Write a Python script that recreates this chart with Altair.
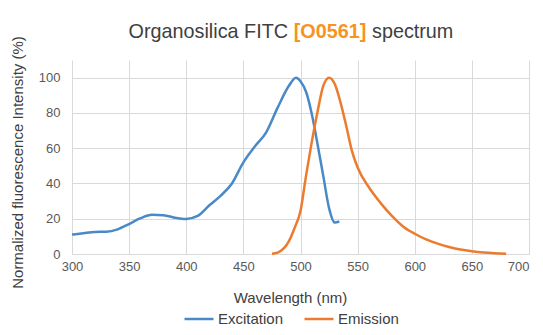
import altair as alt
import pandas as pd

# ---- data ----
exc_wl = [300, 310, 320, 330, 340, 350, 360, 370, 380, 390, 400, 410, 420, 430, 440,
          450, 460, 470, 480, 490, 496, 500, 505, 510, 515, 520, 525, 530, 534]
exc_val = [11, 11.8, 12.5, 12.6, 14, 17, 20.3, 22.2, 22, 20.6, 19.9, 21.6, 27.5, 33,
           40, 52, 61, 69, 83, 95.5, 100, 98, 91.7, 79, 62, 44, 26, 17.8, 18.4]

em_wl = [475, 480, 490, 495, 500, 505, 510, 515, 520, 525, 530, 535, 540, 545, 550,
         560, 570, 580, 590, 600, 610, 620, 630, 640, 650, 660, 670, 680]
em_val = [0.2, 0.8, 7.4, 15, 24.4, 45, 64, 81, 95.5, 100, 96.4, 86, 72.7, 58.5, 49,
          37.7, 29, 21.6, 15.5, 11.5, 8.3, 5.9, 4, 2.5, 1.5, 0.8, 0.4, 0.2]

series_names = ["Excitation", "Emission"]
series_colors = ["#4a89c8", "#ec7b30"]

title_parts = ["Organosilica FITC", "[O0561]", "spectrum"]

x_ticks = [300, 350, 400, 450, 500, 550, 600, 650, 700]
y_ticks = [0, 20, 40, 60, 80, 100]

df = pd.concat([
    pd.DataFrame({"series": series_names[0], "wl": exc_wl, "val": exc_val}),
    pd.DataFrame({"series": series_names[1], "wl": em_wl, "val": em_val}),
])

FONT = "Arial, Liberation Sans, sans-serif"

lines = alt.Chart(df).mark_line(strokeWidth=2.5, interpolate="monotone").encode(
    x=alt.X("wl:Q",
            scale=alt.Scale(domain=[300, 700], nice=False, zero=False),
            axis=alt.Axis(values=x_ticks, title="Wavelength (nm)", titleX=218,
                          titlePadding=17, grid=True, gridColor="#d9d9d9",
                          domainColor="#d9d9d9", ticks=False, labelPadding=6,
                          labelFlush=False,
                          labelAlign=alt.expr("datum.value == 700 ? 'right' : 'center'"),
                          labelFontSize=13, labelColor="#595959",
                          titleFontSize=15, titleFontWeight="normal",
                          titleColor="#404040", labelFont=FONT, titleFont=FONT)),
    y=alt.Y("val:Q",
            scale=alt.Scale(domain=[0, 110], nice=False),
            axis=alt.Axis(values=y_ticks, title="Normalized fluorescence Intensity (%)",
                          titleX=-55, titleY=102, titleAngle=270, titleBaseline="middle",
                          grid=True, gridColor="#d9d9d9", domain=False, ticks=False,
                          labelPadding=12, labelFontSize=13, labelColor="#595959",
                          labelFlush=False,
                          titleFontSize=15, titleFontWeight="normal",
                          titleColor="#404040", labelFont=FONT, titleFont=FONT)),
    color=alt.Color("series:N",
                    scale=alt.Scale(domain=series_names, range=series_colors),
                    sort=series_names,
                    legend=alt.Legend(title=None, orient="none", direction="horizontal",
                                      legendX=111, legendY=243, symbolType="stroke",
                                      symbolSize=841, symbolStrokeWidth=2.5,
                                      labelFontSize=15, labelFont=FONT,
                                      labelColor="#404040", columnPadding=15,
                                      labelOffset=3)),
)

one = pd.DataFrame({"k": [0]})
t1 = alt.Chart(one).mark_text(align="right", baseline="alphabetic", fontSize=19.8,
                              font=FONT, color="#404040").encode(
    x=alt.value(216), y=alt.value(-22), text=alt.value(title_parts[0]))
t2 = alt.Chart(one).mark_text(align="center", baseline="alphabetic", fontSize=19.8,
                              font=FONT, fontWeight="bold", color="#f7931e").encode(
    x=alt.value(258), y=alt.value(-22), text=alt.value(title_parts[1]))
t3 = alt.Chart(one).mark_text(align="left", baseline="alphabetic", fontSize=19.8,
                              font=FONT, color="#404040").encode(
    x=alt.value(300), y=alt.value(-22), text=alt.value(title_parts[2]))

chart = alt.layer(lines, t1, t2, t3).properties(
    width=457, height=194,
    autosize=alt.AutoSizeParams(type="none"),
    padding={"left": 64, "top": 52, "right": 6, "bottom": 73},
).configure_view(stroke=None)

chart.save("out.html", embed_options={"renderer": "svg", "actions": False})
